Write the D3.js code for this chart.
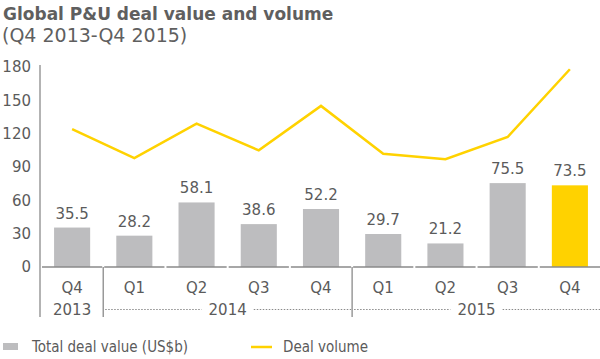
<!DOCTYPE html>
<html><head><meta charset="utf-8">
<script src="https://cdn.jsdelivr.net/npm/d3@7"></script>
<style>
body{margin:0;background:#fff;}
text{font-family:"DejaVu Sans",sans-serif;fill:#5b5b5b;}
</style></head>
<body><svg id="c" width="600" height="359"></svg>
<script>
const quarters = ["Q4","Q1","Q2","Q3","Q4","Q1","Q2","Q3","Q4"];
const years = [{label:"2013",from:0,to:0},{label:"2014",from:1,to:4},{label:"2015",from:5,to:8}];
const dealValue = [35.5,28.2,58.1,38.6,52.2,29.7,21.2,75.5,73.5];
const dealVolume = [124,98,129,105,145,102,97,117,178];
const yTicks = [0,30,60,90,120,150,180];
const highlightIndex = 8;

const svg = d3.select("#c");
const grey = "#bdbdbf", yellow = "#ffd200", axisCol = "#8a8a8a";
const x = d3.scaleBand().domain(d3.range(quarters.length)).range([41,601]).paddingInner(0.42).paddingOuter(0.21);
const step = x.step();
const cellStart = i => x(i) - x.paddingOuter()*step;
const y = d3.scaleLinear().domain([0,180]).range([267,67]);

// title
svg.append("text").attr("x",3).attr("y",20).attr("font-size",17).attr("font-weight","bold")
  .style("fill","#5f5f5f").text("Global P&U deal value and volume");
svg.append("text").attr("x",2).attr("y",42).attr("font-size",19).style("fill","#5f5f5f").text("(Q4 2013-Q4 2015)");

// y axis
const yAxis = d3.axisLeft(y).tickValues(yTicks).tickSize(0).tickPadding(9);
const ga = svg.append("g").attr("transform","translate(40,0)").call(yAxis);
ga.select(".domain").remove();
ga.selectAll("text").attr("font-size",15).style("fill","#5b5b5b").attr("font-family","DejaVu Sans");
svg.append("line").attr("x1",40).attr("x2",40).attr("y1",y(180)-2).attr("y2",317).attr("stroke",axisCol).attr("stroke-width",1.3);

// bars
svg.selectAll("rect.bar").data(dealValue).join("rect").attr("class","bar")
  .attr("x",(d,i)=>x(i)).attr("width",x.bandwidth())
  .attr("y",d=>y(d)).attr("height",d=>y(0)-y(d))
  .attr("fill",(d,i)=>i===highlightIndex?yellow:grey);
svg.selectAll("text.val").data(dealValue).join("text").attr("class","val")
  .attr("x",(d,i)=>x(i)+x.bandwidth()/2).attr("y",d=>y(d)-9)
  .attr("text-anchor","middle").attr("font-size",15).text(d=>d.toFixed(1));

// baseline segments
svg.selectAll("line.base").data(quarters).join("line").attr("class","base")
  .attr("x1",(d,i)=>cellStart(i)+1).attr("x2",(d,i)=>cellStart(i)+step-1)
  .attr("y1",y(0)).attr("y2",y(0)).attr("stroke",axisCol).attr("stroke-width",1.3);

// line
const line = d3.line().x((d,i)=>x(i)+x.bandwidth()/2).y(d=>y(d));
svg.append("path").datum(dealVolume).attr("d",line).attr("fill","none").attr("stroke",yellow).attr("stroke-width",2.5).attr("stroke-linejoin","miter");

// quarter labels
svg.selectAll("text.q").data(quarters).join("text").attr("class","q")
  .attr("x",(d,i)=>x(i)+x.bandwidth()/2).attr("y",293).attr("text-anchor","middle").attr("font-size",15).text(d=>d);

// year separators and labels
years.forEach((yr,k)=>{
  const s = cellStart(yr.from), e = cellStart(yr.to)+step;
  if(k>0) svg.append("line").attr("x1",s).attr("x2",s).attr("y1",y(0)).attr("y2",317).attr("stroke",axisCol).attr("stroke-width",1.3);
  const cx = (s+e)/2;
  const t = svg.append("text").attr("x",cx).attr("y",315).attr("text-anchor","middle").attr("font-size",15).text(yr.label);
  if(yr.to>yr.from){
    const w = t.node().getComputedTextLength();
    [[s+2,cx-w/2-7],[cx+w/2+7,e-1]].forEach(([a,b])=>{
      svg.append("line").attr("x1",a).attr("x2",b).attr("y1",309.5).attr("y2",309.5)
        .attr("stroke","#8a8a8a").attr("stroke-width",1).attr("stroke-dasharray","1.5,1.5");
    });
  }
});

// legend
svg.append("rect").attr("x",3).attr("y",343).attr("width",15).attr("height",7).attr("fill",grey);
svg.append("text").attr("x",32).attr("y",352).attr("font-size",15).attr("font-family","DejaVu Sans Condensed").style("font-stretch","condensed").text("Total deal value (US$b)");
svg.append("line").attr("x1",251).attr("x2",272).attr("y1",347).attr("y2",347).attr("stroke",yellow).attr("stroke-width",2.5);
svg.append("text").attr("x",283).attr("y",352).attr("font-size",15).attr("font-family","DejaVu Sans Condensed").style("font-stretch","condensed").text("Deal volume");
</script></body></html>
